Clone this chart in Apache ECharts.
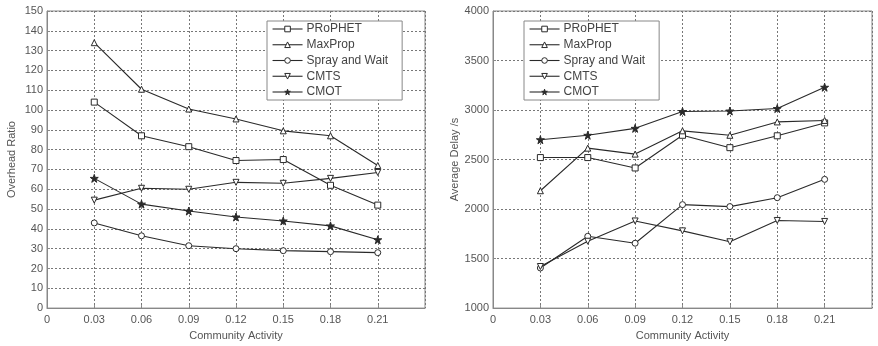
<!DOCTYPE html>
<html>
<head>
<meta charset="utf-8">
<script src="https://cdn.jsdelivr.net/npm/echarts@6/dist/echarts.min.js"></script>
<style>
  html, body { margin: 0; padding: 0; background: #fff; }
  #chart { width: 878px; height: 346px; }
</style>
</head>
<body>
<div id="chart"></div>
<script>
// community activity values (x axis)
const activity = [0.03, 0.06, 0.09, 0.12, 0.15, 0.18, 0.21]
const seriesNames = ['PRoPHET', 'MaxProp', 'Spray and Wait', 'CMTS', 'CMOT']

// left chart: overhead ratio
const overheadProphet = [104, 87, 81.5, 74.5, 75, 62, 52]
const overheadMaxProp = [134, 110.5, 100.5, 95.5, 89.5, 87, 72]
const overheadSpray = [43, 36.5, 31.5, 30, 29, 28.5, 28]
const overheadCmts = [54.5, 60.5, 60, 63.5, 63, 65.5, 68.5]
const overheadCmot = [65.5, 52.5, 49, 46, 44, 41.5, 34.5]

// right chart: average delay (s)
const delayProphet = [2520, 2520, 2415, 2745, 2620, 2740, 2870]
const delayMaxProp = [2185, 2615, 2555, 2790, 2745, 2880, 2895]
const delaySpray = [1405, 1725, 1655, 2045, 2025, 2115, 2300]
const delayCmts = [1420, 1675, 1880, 1780, 1670, 1885, 1875]
const delayCmot = [2700, 2745, 2815, 2985, 2990, 3015, 3230]

const lineColor = '#2a2a2a'
const textColor = '#555'
const starPath = 'path://M5,0 L6.2,3.6 L10,3.6 L6.9,5.9 L8.1,9.5 L5,7.3 L1.9,9.5 L3.1,5.9 L0,3.6 L3.8,3.6 Z'
const downTriPath = 'path://M0,0 L10,0 L5,9 Z'
const symbols = ['rect', 'triangle', 'circle', downTriPath, starPath]
const fills = ['#fff', '#fff', '#fff', '#fff', lineColor]

function pairs(vals) {
    return activity.map((x, i) => [x, vals[i]])
}

function xAxisCfg(gridIndex) {
    return {
        gridIndex: gridIndex,
        type: 'value',
        min: 0,
        max: 0.24,
        interval: 0.03,
        name: 'Community Activity',
        nameLocation: 'middle',
        nameGap: 20,
        nameTextStyle: { color: textColor, fontSize: 11, fontFamily: 'Liberation Sans' },
        axisLine: { show: true, lineStyle: { color: '#888' } },
        axisTick: { show: true, inside: true, length: 3, lineStyle: { color: '#888' } },
        axisLabel: {
            color: textColor, fontSize: 11, fontFamily: 'Liberation Sans', margin: 6,
            showMaxLabel: false,
            formatter: v => v === 0 ? '0' : (v > 0.235 ? '' : v.toFixed(2))
        },
        splitLine: { show: true, lineStyle: { color: '#777', type: [2, 2], width: 1 } }
    }
}

function yAxisCfg(gridIndex, min, max, interval, name, gap) {
    return {
        gridIndex: gridIndex,
        type: 'value',
        min: min,
        max: max,
        interval: interval,
        name: name,
        nameLocation: 'middle',
        nameGap: gap,
        nameTextStyle: { color: textColor, fontSize: 11, fontFamily: 'Liberation Sans' },
        axisLine: { show: true, lineStyle: { color: '#888' } },
        axisTick: { show: true, inside: true, length: 3, lineStyle: { color: '#888' } },
        axisLabel: { color: textColor, fontSize: 11, fontFamily: 'Liberation Sans', margin: 4, formatter: v => String(v) },
        splitLine: { show: true, lineStyle: { color: '#777', type: [2, 2], width: 1 } }
    }
}

function legendCfg(left) {
    return {
        data: seriesNames,
        orient: 'vertical',
        left: left,
        top: 21,
        width: 128,
        padding: [2, 14, 2, 5],
        itemWidth: 30,
        itemHeight: 7,
        itemGap: 3.75,
        lineStyle: { width: 1.1 },
        itemStyle: { borderWidth: 1 },
        backgroundColor: '#fff',
        borderColor: '#888',
        borderWidth: 1,
        borderRadius: 0,
        textStyle: { color: '#444', fontSize: 12, lineHeight: 12, fontFamily: 'Liberation Sans', padding: [0, 0, 0, -1] }
    }
}

const sets = [
    [overheadProphet, overheadMaxProp, overheadSpray, overheadCmts, overheadCmot],
    [delayProphet, delayMaxProp, delaySpray, delayCmts, delayCmot]
]

const series = []
sets.forEach((set, g) => {
    set.forEach((vals, i) => {
        series.push({
            name: seriesNames[i],
            type: 'line',
            xAxisIndex: g,
            yAxisIndex: g,
            data: pairs(vals),
            symbol: symbols[i],
            symbolSize: i === 4 ? 8 : 6,
            showAllSymbol: true,
            animation: false,
            lineStyle: { color: lineColor, width: 1.1 },
            itemStyle: { color: fills[i], borderColor: lineColor, borderWidth: 1 },
            z: 3
        })
    })
})

const myChart = echarts.init(document.getElementById('chart'))
myChart.setOption({
    animation: false,
    grid: [
        { left: 47, top: 11, width: 378, height: 300, show: true, borderColor: '#888', borderWidth: 1, backgroundColor: 'transparent' },
        { left: 493, top: 11, width: 379, height: 300, show: true, borderColor: '#888', borderWidth: 1, backgroundColor: 'transparent' }
    ],
    legend: [legendCfg(267), legendCfg(524)],
    xAxis: [xAxisCfg(0), xAxisCfg(1)],
    yAxis: [
        yAxisCfg(0, 0, 150, 10, 'Overhead Ratio', 30),
        yAxisCfg(1, 1000, 4000, 500, 'Average Delay /s', 33)
    ],
    series: series
})
</script>
</body>
</html>
